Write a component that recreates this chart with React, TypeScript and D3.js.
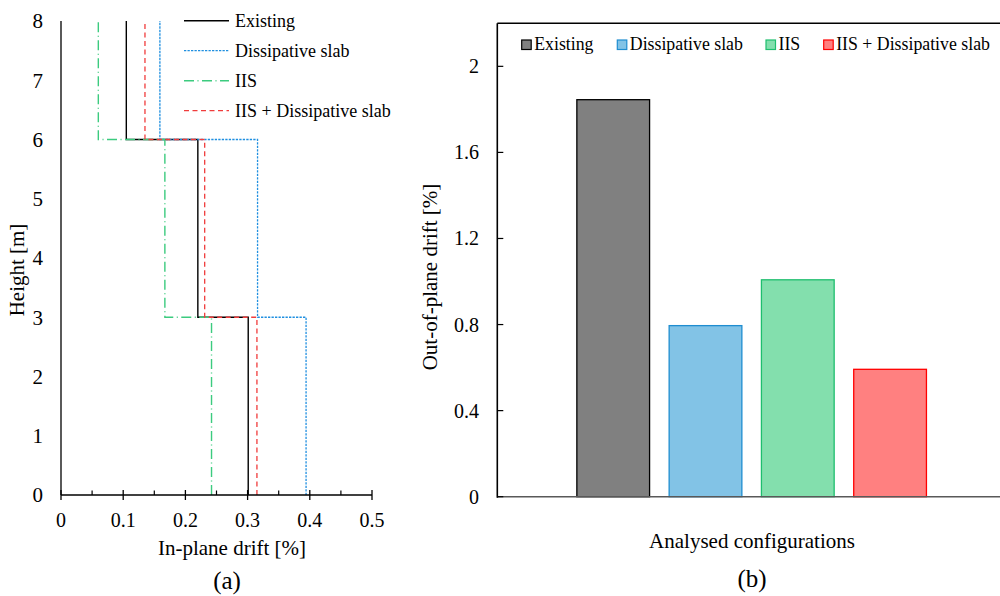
import React, { useEffect, useRef } from "react";
import * as d3 from "d3";

// storey boundaries [m] and in-plane drift per storey [%] (0-3, 3-6, 6-8)
const storeyHeights = [0, 3, 6, 8];
const driftExisting = [0.301, 0.22, 0.105];
const driftDissipative = [0.394, 0.316, 0.159];
const driftIIS = [0.242, 0.167, 0.06];
const driftIISDissipative = [0.315, 0.231, 0.135];

const driftTicks = [0, 0.1, 0.2, 0.3, 0.4, 0.5];
const heightTicks = [0, 1, 2, 3, 4, 5, 6, 7, 8];

// out-of-plane drift [%]
const configurations = ["Existing", "Dissipative slab", "IIS", "IIS + Dissipative slab"];
const outOfPlaneDrift = [1.845, 0.795, 1.008, 0.592];
const outTicks = [0, 0.4, 0.8, 1.2, 1.6, 2.0];

const FONT = "'Liberation Serif', 'Times New Roman', serif";

const App = () => {
    const svgRef = useRef<SVGSVGElement>(null);

    useEffect(() => {
        const svg = d3.select(svgRef.current);
        svg.selectAll("*").remove();

        // ---------- (a) in-plane drift profile ----------
        const x = d3.scaleLinear().domain([0, 0.5]).range([61, 372]);
        const y = d3.scaleLinear().domain([0, 8]).range([495, 21]);
        const gA = svg.append("g");

        const lineStyles = [
            { name: "Existing", data: driftExisting, color: "#000000", dash: null, width: 1.4 },
            { name: "Dissipative slab", data: driftDissipative, color: "#1f8fe0", dash: "2.3,1.2", width: 1.3 },
            { name: "IIS", data: driftIIS, color: "#3ccb7f", dash: "10,3.5,1,3.5", width: 1.4 },
            { name: "IIS + Dissipative slab", data: driftIISDissipative, color: "#f03c3c", dash: "5,3.5", width: 1.3 },
        ];

        const stepLine = d3.line<[number, number]>()
            .x(d => x(d[0]))
            .y(d => y(d[1]));

        lineStyles.forEach(s => {
            const pts: [number, number][] = [];
            s.data.forEach((v, i) => {
                pts.push([v, storeyHeights[i]]);
                pts.push([v, storeyHeights[i + 1]]);
            });
            gA.append("path")
                .attr("d", stepLine(pts))
                .attr("fill", "none")
                .attr("stroke", s.color)
                .attr("stroke-width", s.width)
                .attr("stroke-dasharray", s.dash);
        });

        // axes
        gA.append("line")
            .attr("x1", x(0)).attr("x2", x(0))
            .attr("y1", y(8)).attr("y2", y(0))
            .attr("stroke", "#000").attr("stroke-width", 1.3);
        gA.append("line")
            .attr("x1", x(0)).attr("x2", x(0.5))
            .attr("y1", y(0)).attr("y2", y(0))
            .attr("stroke", "#000").attr("stroke-width", 1.5);

        driftTicks.forEach(t => {
            gA.append("line")
                .attr("x1", x(t)).attr("x2", x(t))
                .attr("y1", y(0) - 5).attr("y2", y(0) + 5)
                .attr("stroke", "#000").attr("stroke-width", 1.3);
            gA.append("text")
                .attr("x", x(t))
                .attr("y", 527)
                .attr("text-anchor", "middle")
                .style("font-size", "20px")
                .attr("font-family", FONT)
                .text(String(t));
        });
        d3.range(0.05, 0.5, 0.1).forEach(t => {
            gA.append("line")
                .attr("x1", x(t)).attr("x2", x(t))
                .attr("y1", y(0) - 4.5).attr("y2", y(0))
                .attr("stroke", "#000").attr("stroke-width", 1.2);
        });

        heightTicks.forEach(t => {
            gA.append("text")
                .attr("x", 43)
                .attr("y", y(t))
                .attr("dy", "0.35em")
                .attr("text-anchor", "end")
                .style("font-size", "21px")
                .attr("font-family", FONT)
                .text(String(t));
        });

        gA.append("text")
            .attr("transform", "translate(24,270) rotate(-90)")
            .attr("text-anchor", "middle")
            .style("font-size", "21px")
            .attr("font-family", FONT)
            .text("Height [m]");

        gA.append("text")
            .attr("x", 232).attr("y", 555)
            .attr("text-anchor", "middle")
            .style("font-size", "21px")
            .attr("font-family", FONT)
            .text("In-plane drift [%]");

        gA.append("text")
            .attr("x", 227).attr("y", 589)
            .attr("text-anchor", "middle")
            .style("font-size", "25px")
            .attr("font-family", FONT)
            .text("(a)");

        // legend (a)
        lineStyles.forEach((s, i) => {
            const ly = 20.7 + i * 30;
            gA.append("line")
                .attr("x1", 184).attr("x2", 229)
                .attr("y1", ly).attr("y2", ly)
                .attr("stroke", s.color)
                .attr("stroke-width", s.width)
                .attr("stroke-dasharray", s.dash);
            gA.append("text")
                .attr("x", 235).attr("y", ly)
                .attr("dy", "0.35em")
                .style("font-size", "18px")
                .attr("font-family", FONT)
                .text(s.name);
        });

        // ---------- (b) out-of-plane drift bars ----------
        const left = 497.3, right = 1006, top = 23.3, bottom = 496.7;
        const yb = d3.scaleLinear().domain([0, 2.2]).range([bottom, top]);
        const xb = d3.scaleBand<string>()
            .domain(configurations)
            .range([left, right])
            .paddingInner(0.212)
            .paddingOuter(0.862);
        const fills = ["#808080", "#82c3e6", "#83dfad", "#ff8080"];
        const strokes = ["#000000", "#1f8dd0", "#1ebe6e", "#ff0000"];

        const gB = svg.append("g");

        gB.selectAll("rect.bar")
            .data(configurations)
            .enter().append("rect")
            .attr("class", "bar")
            .attr("x", d => xb(d)!)
            .attr("width", xb.bandwidth())
            .attr("y", (d, i) => yb(outOfPlaneDrift[i]))
            .attr("height", (d, i) => bottom - yb(outOfPlaneDrift[i]))
            .attr("fill", (d, i) => fills[i])
            .attr("stroke", (d, i) => strokes[i])
            .attr("stroke-width", 1.3);

        // plot border top + left axis, grey baseline
        gB.append("line")
            .attr("x1", left).attr("x2", right)
            .attr("y1", top).attr("y2", top)
            .attr("stroke", "#000").attr("stroke-width", 1.5);
        gB.append("line")
            .attr("x1", left).attr("x2", right)
            .attr("y1", bottom).attr("y2", bottom)
            .attr("stroke", "#595959").attr("stroke-width", 1.6);
        gB.append("line")
            .attr("x1", left).attr("x2", left)
            .attr("y1", top).attr("y2", bottom + 1)
            .attr("stroke", "#000").attr("stroke-width", 1.6);

        outTicks.forEach(t => {
            gB.append("line")
                .attr("x1", left).attr("x2", left + 6)
                .attr("y1", yb(t)).attr("y2", yb(t))
                .attr("stroke", "#000").attr("stroke-width", 1.2);
            gB.append("text")
                .attr("x", 479).attr("y", yb(t))
                .attr("dy", "0.35em")
                .attr("text-anchor", "end")
                .style("font-size", "20px")
                .attr("font-family", FONT)
                .text(d3.format("~g")(t));
        });

        gB.append("text")
            .attr("transform", "translate(437,277) rotate(-90)")
            .attr("text-anchor", "middle")
            .style("font-size", "21px")
            .attr("font-family", FONT)
            .text("Out-of-plane drift [%]");

        gB.append("text")
            .attr("x", 752).attr("y", 548)
            .attr("text-anchor", "middle")
            .style("font-size", "21px")
            .attr("font-family", FONT)
            .text("Analysed configurations");

        gB.append("text")
            .attr("x", 752).attr("y", 587)
            .attr("text-anchor", "middle")
            .style("font-size", "25px")
            .attr("font-family", FONT)
            .text("(b)");

        // legend (b)
        const legendX = [521.7, 617.3, 766, 823.7];
        configurations.forEach((c, i) => {
            gB.append("rect")
                .attr("x", legendX[i]).attr("y", 40)
                .attr("width", 9.5).attr("height", 9.5)
                .attr("fill", fills[i])
                .attr("stroke", strokes[i])
                .attr("stroke-width", 1.2);
            gB.append("text")
                .attr("x", legendX[i] + 12.5).attr("y", 50)
                .style("font-size", "17.8px")
                .attr("font-family", FONT)
                .text(c);
        });

        return () => {
            svg.selectAll("*").remove();
        };
    }, []);

    return (
        <svg
            ref={svgRef}
            width={1000}
            height={596}
            style={{ position: "absolute", left: 0, top: 0, background: "#fff" }}
        ></svg>
    );
};

export default App;
